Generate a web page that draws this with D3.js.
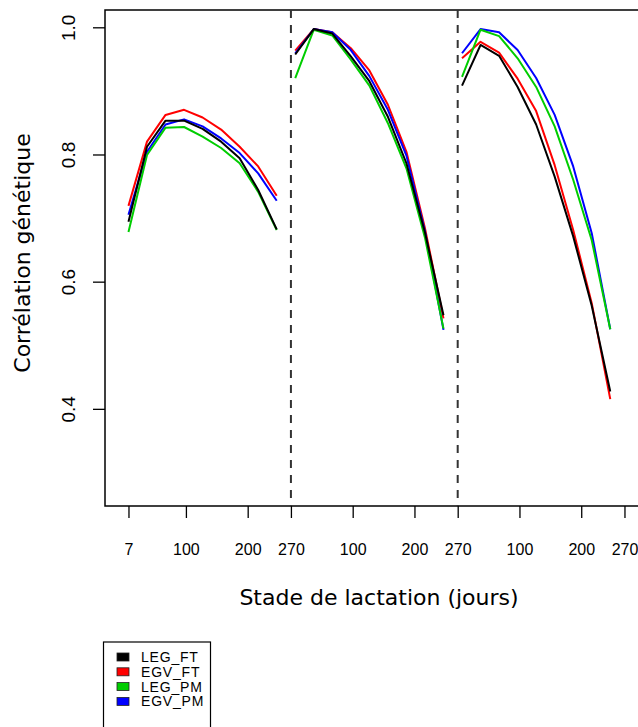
<!DOCTYPE html>
<html>
<head>
<meta charset="utf-8">
<script src="https://cdn.jsdelivr.net/npm/d3@7"></script>
<style>
  body { margin: 0; background: #fff; }
  svg { display: block; }
</style>
</head>
<body>
<div id="chart"></div>
<script>
//Data
var days = [7, 37, 67, 97, 127, 157, 187, 217, 247];
var panelOffsets = [0, 270, 540];
var seriesNames = ["LEG_FT", "EGV_FT", "LEG_PM", "EGV_PM"];

// one sub-array per panel
var legFT = [
  [0.695, 0.813, 0.854, 0.854, 0.841, 0.821, 0.795, 0.745, 0.683],
  [0.958, 0.998, 0.991, 0.955, 0.916, 0.860, 0.787, 0.678, 0.548],
  [0.909, 0.973, 0.956, 0.907, 0.848, 0.766, 0.672, 0.563, 0.428]
];
var egvFT = [
  [0.720, 0.821, 0.863, 0.871, 0.859, 0.840, 0.813, 0.782, 0.736],
  [0.964, 0.998, 0.993, 0.968, 0.933, 0.879, 0.805, 0.685, 0.543],
  [0.952, 0.978, 0.961, 0.920, 0.869, 0.784, 0.682, 0.567, 0.416]
];
var legPM = [
  [0.679, 0.800, 0.843, 0.844, 0.829, 0.811, 0.787, 0.742, 0.682],
  [0.921, 0.997, 0.988, 0.950, 0.909, 0.850, 0.779, 0.670, 0.527],
  [0.923, 0.997, 0.987, 0.952, 0.907, 0.845, 0.761, 0.666, 0.526]
];
var egvPM = [
  [0.706, 0.805, 0.848, 0.856, 0.845, 0.826, 0.803, 0.771, 0.728],
  [0.960, 0.998, 0.993, 0.965, 0.924, 0.871, 0.799, 0.680, 0.525],
  [0.960, 0.998, 0.993, 0.965, 0.921, 0.863, 0.782, 0.677, 0.526]
];

var xTickValues = [7, 100, 200, 270, 370, 470, 540, 640, 740, 810];
var xTickLabels = ["7", "100", "200", "270", "100", "200", "270", "100", "200", "270"];
var yTickValues = [0.4, 0.6, 0.8, 1.0];
var separators = [270, 540];

var seriesValues = [legFT, egvFT, legPM, egvPM];
var colors = ["#000000", "#ff0000", "#00cd00", "#0000ff"];
// draw order so black ends up on top, green over blue
var drawOrder = [1, 3, 2, 0];

var W = 638, H = 727;
var plotLeft = 105, plotTop = 10, plotBottom = 506, plotRight = 643;

var svg = d3.select("#chart").append("svg")
  .attr("width", W)
  .attr("height", H);

var x = d3.scaleLinear().domain([-31, 840]).range([plotLeft, plotRight]);
var y = d3.scaleLinear().domain([0.248, 1.028]).range([plotBottom, plotTop]);

//frame (left, top, bottom; right side falls off the page)
svg.append("path")
  .attr("d", "M" + plotRight + "," + plotTop + "H" + plotLeft + "V" + plotBottom + "H" + plotRight)
  .attr("fill", "none")
  .attr("stroke", "#000")
  .attr("stroke-width", 1.5);

//y axis
var yAxis = svg.append("g")
  .attr("transform", "translate(" + plotLeft + ",0)")
  .call(d3.axisLeft(y).tickValues(yTickValues).tickSize(12).tickFormat(d3.format(".1f")));
yAxis.select(".domain").remove();
yAxis.selectAll("line").attr("stroke", "#000").attr("stroke-width", 1.3);
yAxis.selectAll(".tick").attr("transform", null);
yAxis.selectAll(".tick line")
  .attr("y1", function(d) { return y(d); })
  .attr("y2", function(d) { return y(d); });
yAxis.selectAll("text")
  .attr("x", null).attr("y", null).attr("dy", null)
  .attr("transform", function(d) { return "translate(-30," + y(d) + ") rotate(-90)"; })
  .attr("text-anchor", "middle")
  .attr("font-family", "Liberation Sans, Arial, sans-serif")
  .attr("font-size", "19px")
  .attr("fill", "#000");

//x axis
var xAxis = svg.append("g")
  .attr("transform", "translate(0," + plotBottom + ")")
  .call(d3.axisBottom(x).tickValues(xTickValues).tickSize(12)
    .tickFormat(function(d, i) { return xTickLabels[i]; }));
xAxis.select(".domain").remove();
xAxis.selectAll("line").attr("stroke", "#000").attr("stroke-width", 1.3);
xAxis.selectAll("text")
  .attr("y", 49).attr("dy", null)
  .attr("font-family", "Liberation Sans, Arial, sans-serif")
  .attr("font-size", "16px")
  .attr("fill", "#000");

//dashed separators
svg.selectAll(".sep")
  .data(separators)
  .enter()
  .append("line")
  .attr("class", "sep")
  .attr("x1", function(d) { return x(d); })
  .attr("x2", function(d) { return x(d); })
  .attr("y1", plotTop)
  .attr("y2", plotBottom)
  .attr("stroke", "#333")
  .attr("stroke-width", 2)
  .attr("stroke-dasharray", "8,7");

//lines, one path per panel
var line = d3.line()
  .x(function(d) { return x(d.day); })
  .y(function(d) { return y(d.value); });

drawOrder.forEach(function(s) {
  seriesValues[s].forEach(function(panel, p) {
    var pts = panel.map(function(v, i) { return { day: days[i] + panelOffsets[p], value: v }; });
    svg.append("path")
      .datum(pts)
      .attr("d", line)
      .attr("fill", "none")
      .attr("stroke", colors[s])
      .attr("stroke-width", 2)
      .attr("stroke-linejoin", "round");
  });
});

//axis titles
svg.append("text")
  .attr("x", 379)
  .attr("y", 605)
  .attr("text-anchor", "middle")
  .attr("font-family", "DejaVu Sans, sans-serif")
  .attr("font-size", "22px")
  .attr("fill", "#000")
  .text("Stade de lactation (jours)");

svg.append("text")
  .attr("transform", "translate(30,253) rotate(-90)")
  .attr("text-anchor", "middle")
  .attr("font-family", "DejaVu Sans, sans-serif")
  .attr("font-size", "22px")
  .attr("fill", "#000")
  .text("Corrélation génétique");

//legend
var legend = svg.append("g")
  .attr("class", "legend");

legend.append("rect")
  .attr("x", 103.5)
  .attr("y", 642)
  .attr("width", 107)
  .attr("height", 100)
  .attr("fill", "#fff")
  .attr("stroke", "#000")
  .attr("stroke-width", 1.2);

legend.selectAll(".sw")
  .data(seriesNames)
  .enter()
  .append("rect")
  .attr("class", "sw")
  .attr("x", 117)
  .attr("y", function(d, i) { return 653 + i * 14.8; })
  .attr("width", 12)
  .attr("height", 8)
  .attr("fill", function(d, i) { return colors[i]; })
  .attr("stroke", "#222")
  .attr("stroke-width", 0.8);

legend.selectAll(".lt")
  .data(seriesNames)
  .enter()
  .append("text")
  .attr("class", "lt")
  .attr("x", 141)
  .attr("y", function(d, i) { return 662 + i * 14.8; })
  .attr("font-family", "Liberation Sans, Arial, sans-serif")
  .attr("font-size", "14px")
  .attr("letter-spacing", "0.8px")
  .attr("fill", "#000")
  .text(function(d) { return d; });
</script>
</body>
</html>
